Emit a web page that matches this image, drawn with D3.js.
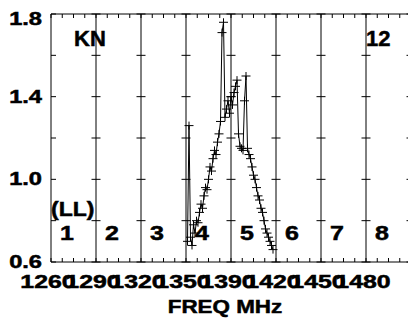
<!DOCTYPE html>
<html><head><meta charset="utf-8">
<script src="https://cdn.jsdelivr.net/npm/d3@7"></script>
<style>body{margin:0;background:#fff}svg{display:block}text{font-family:"Liberation Sans",Arial,sans-serif;font-weight:bold;fill:#000;stroke:#000;stroke-width:0.5px}</style>
</head><body><svg id="c" width="408" height="321"></svg>
<script>
// ---- data ----
const freq = [1351,1352,1353,1354,1355,1356,1357,1358,1359,1360,1361,1362,1363,1364,1365,1366,1367,1368,1369,1370,1371,1372,1373,1374,1375,1376,1377,1378,1379,1380,1381,1382,1383,1384,1385,1386,1387,1388,1389,1390,1391,1392,1393,1394,1395,1396,1397,1398,1399,1400,1401,1402,1403,1404,1405,1406,1407,1408];
const flux = [0.70,1.26,0.72,0.68,0.78,0.74,0.80,0.79,0.84,0.88,0.86,0.92,0.96,0.95,1.00,1.06,1.04,1.10,1.14,1.12,1.18,1.22,1.28,1.71,1.76,1.30,1.34,1.38,1.32,1.40,1.36,1.42,1.45,1.48,1.22,1.16,1.15,1.14,1.38,1.50,1.15,1.12,1.10,1.06,1.02,1.00,0.96,0.92,0.90,0.86,0.84,0.80,0.76,0.74,0.72,0.70,0.68,0.66];
const xGridValues = [1260,1290,1320,1350,1380,1410,1440,1470,1500];
const xTickLabels = ["1260","1290","1320","1350","1390","1420","1450","1480"];
const yTickValues = [0.6,0.8,1.0,1.2,1.4,1.6,1.8];
const yLabelValues = [0.6,1.0,1.4,1.8];
const channelLabels = ["1","2","3","4","5","6","7","8"];
const sourceLabel = "KN", scanLabel = "12", polLabel = "(LL)", xTitle = "FREQ MHz";

// ---- layout ----
const svg = d3.select("#c");
const x = d3.scaleLinear().domain([1260,1500]).range([51,411]);
const y = d3.scaleLinear().domain([0.6,1.8]).range([262,14]);
const g = svg.append("g");

// frame
g.append("line").attr("x1",x(1260)).attr("x2",x(1260)).attr("y1",y(0.6)).attr("y2",y(1.8)).attr("stroke","#000");
g.append("line").attr("x1",x(1260)).attr("x2",x(1500)).attr("y1",y(1.8)).attr("y2",y(1.8)).attr("stroke","#000");
g.append("line").attr("x1",x(1260)).attr("x2",x(1500)).attr("y1",y(0.6)).attr("y2",y(0.6)).attr("stroke","#000");

// minor x ticks top & bottom
const minor = d3.range(1260,1500.1,7.5);
minor.forEach(v=>{
  g.append("line").attr("x1",x(v)).attr("x2",x(v)).attr("y1",y(0.6)).attr("y2",y(0.6)-4).attr("stroke","#000");
  g.append("line").attr("x1",x(v)).attr("x2",x(v)).attr("y1",y(1.8)).attr("y2",y(1.8)+4).attr("stroke","#000");
});
// left axis y ticks
yTickValues.forEach(v=>{
  g.append("line").attr("x1",x(1260)).attr("x2",x(1260)+5).attr("y1",y(v)).attr("y2",y(v)).attr("stroke","#000");
});
// vertical grid lines with cross ticks
xGridValues.slice(1).forEach(v=>{
  g.append("line").attr("x1",x(v)).attr("x2",x(v)).attr("y1",y(0.6)).attr("y2",y(1.8)).attr("stroke","#000");
  yTickValues.forEach(t=>{
    g.append("line").attr("x1",x(v)-4.5).attr("x2",x(v)+4.5).attr("y1",y(t)).attr("y2",y(t)).attr("stroke","#000");
  });
});

// y labels
yLabelValues.forEach(v=>{
  g.append("text").attr("transform",`translate(42,${Math.max(y(v),19)}) scale(1.35,1)`)
   .attr("text-anchor","end").attr("dy","0.35em").style("font-size","17.5px").text(d3.format(".1f")(v));
});
// x labels
xTickLabels.forEach((s,i)=>{
  g.append("text").attr("transform",`translate(${x(xGridValues[i])-3},288) scale(1.38,1)`)
   .attr("text-anchor","middle").style("font-size","18px").text(s);
});
// x title
g.append("text").attr("transform","translate(225,313) scale(1.18,1)").attr("text-anchor","middle").style("font-size","19px").text(xTitle);

// annotations
g.append("text").attr("x",74).attr("y",46).style("font-size","22px").text(sourceLabel);
g.append("text").attr("x",366).attr("y",46).style("font-size","22px").text(scanLabel);
g.append("text").attr("transform","translate(51,216) scale(1.15,1)").style("font-size","20px").text(polLabel);
channelLabels.forEach((s,i)=>{
  g.append("text").attr("transform",`translate(${x(xGridValues[i])+16},240) scale(1.25,1)`)
   .attr("text-anchor","middle").style("font-size","20px").text(s);
});

// spectrum
const pts = freq.map((f,i)=>[x(f),y(flux[i])]);
g.append("path").attr("d",d3.line()(pts)).attr("fill","none").attr("stroke","#000").attr("stroke-width",1);
g.selectAll("path.m").data(pts).join("path").attr("class","m")
 .attr("d",d=>`M${d[0]-4.5},${d[1]}H${d[0]+4.5}M${d[0]},${d[1]-4}V${d[1]+4}`)
 .attr("stroke","#000").attr("stroke-width",1).attr("fill","none");
</script></body></html>
